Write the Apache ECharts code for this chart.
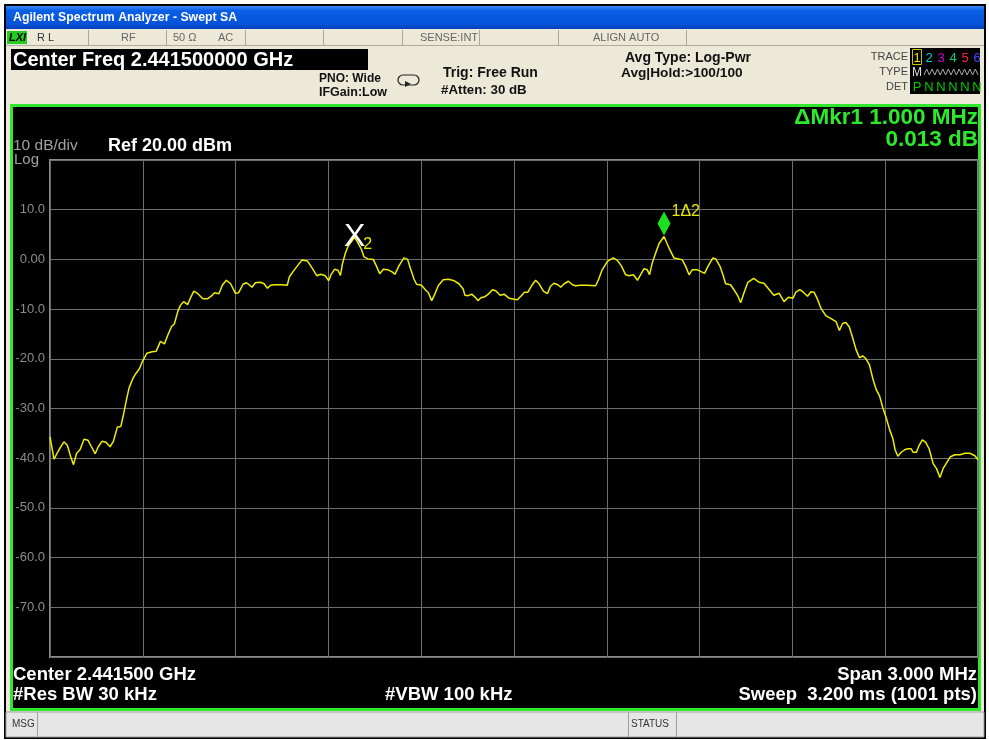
<!DOCTYPE html>
<html>
<head>
<meta charset="utf-8">
<script src="https://cdn.jsdelivr.net/npm/echarts@6/dist/echarts.min.js"></script>
<style>
  body { margin: 0; background: #fff; }
  #sa { width: 989px; height: 740px; }
</style>
</head>
<body>
<div id="sa"></div>
<script>
// trace: offset from centre (kHz) and level (dBm)
var freqKHz = [
  -1500, -1487, -1471, -1455, -1444, -1433, -1424, -1414, -1403, -1390, -1377, -1366, -1354, -1344, -1332, -1319,
  -1306, -1295, -1282, -1271, -1262, -1251, -1244, -1233, -1224, -1211, -1201, -1187, -1170, -1157, -1143, -1130,
  -1119, -1107, -1098, -1087, -1078, -1068, -1055, -1047, -1035, -1022, -1006, -990, -979, -968, -954, -943,
  -930, -916, -901, -890, -884, -876, -865, -858, -847, -836, -820, -808, -797, -787, -774, -752,
  -733, -726, -709, -685, -668, -653, -637, -625, -610, -599, -591, -580, -569, -561, -555, -545,
  -536, -515, -493, -485, -472, -455, -445, -434, -423, -407, -394, -385, -372, -356, -344, -334,
  -323, -315, -299, -288, -277, -266, -256, -245, -229, -212, -193, -178, -164, -159, -148, -137,
  -124, -117, -107, -94, -83, -70, -59, -45, -32, -16, 0, 11, 22, 34, 45, 59,
  70, 81, 95, 108, 118, 129, 142, 151, 162, 176, 189, 199, 215, 237, 264, 273,
  285, 302, 321, 334, 347, 361, 372, 386, 399, 409, 420, 431, 438, 447, 458, 469,
  485, 492, 504, 517, 533, 544, 555, 566, 576, 593, 603, 616, 627, 643, 652, 666,
  677, 684, 700, 711, 724, 733, 743, 756, 775, 792, 808, 824, 840, 857, 873, 887,
  902, 911, 924, 935, 949, 960, 970, 981, 992, 1008, 1025, 1041, 1052, 1055, 1062, 1073,
  1084, 1095, 1106, 1117, 1127, 1138, 1149, 1160, 1171, 1182, 1192, 1203, 1214, 1225, 1232, 1241,
  1252, 1263, 1273, 1284, 1290, 1301, 1309, 1320, 1331, 1342, 1355, 1366, 1377, 1387, 1400, 1411,
  1425, 1442, 1458, 1474, 1490, 1500
];
var levelDbm = [
  -35.7, -40.2, -38.3, -36.7, -37.4, -39.7, -41.3, -39.0, -38.3, -36.2, -36.4, -37.7, -39.1, -37.7, -36.6, -36.8,
  -37.7, -36.6, -33.7, -33.6, -31.1, -27.7, -25.8, -24.1, -23.1, -22.0, -20.5, -18.9, -18.6, -18.5, -16.5, -17.0,
  -15.2, -13.5, -13.0, -10.5, -9.2, -8.5, -9.1, -7.9, -6.4, -6.9, -7.9, -7.9, -7.4, -6.7, -6.9, -5.2,
  -4.2, -4.9, -6.8, -6.7, -6.4, -5.0, -4.7, -5.0, -5.6, -4.7, -4.6, -4.9, -5.8, -5.2, -5.1, -5.1,
  -5.2, -3.5, -2.0, -0.1, -0.3, -1.7, -3.3, -3.0, -3.3, -4.3, -3.0, -2.0, -2.2, -3.2, -1.0, 1.3,
  2.7, 4.5, 2.0, 0.5, 0.1, 0.0, -1.3, -2.9, -2.0, -2.1, -2.5, -3.0, -1.3, 0.3, 0.0, -2.0,
  -4.0, -5.0, -5.2, -6.0, -6.7, -8.3, -7.0, -5.3, -4.1, -4.0, -4.3, -4.9, -6.0, -7.2, -7.3, -7.0,
  -7.7, -8.3, -7.7, -7.5, -7.0, -6.1, -6.3, -7.2, -7.0, -7.8, -8.0, -8.1, -7.4, -6.6, -6.6, -5.1,
  -4.2, -4.9, -6.4, -6.9, -5.4, -4.8, -5.1, -5.6, -4.9, -4.4, -5.1, -5.3, -5.2, -5.2, -5.3, -4.1,
  -2.1, -0.4, 0.3, -0.2, -1.3, -3.1, -3.3, -3.1, -4.2, -3.1, -1.9, -2.1, -3.1, -0.7, 1.3, 3.2,
  4.6, 3.6, 1.9, 0.3, 0.1, -0.1, -1.4, -3.1, -2.1, -2.1, -2.4, -2.8, -1.4, 0.3, 0.1, -1.4,
  -3.4, -4.9, -5.1, -6.1, -7.4, -8.7, -6.8, -4.6, -3.8, -4.6, -4.8, -6.0, -7.2, -6.8, -8.5, -7.6,
  -7.8, -6.6, -6.1, -6.6, -7.4, -6.5, -6.6, -8.0, -9.8, -11.3, -11.9, -12.5, -14.3, -14.7, -12.9, -12.7,
  -13.6, -15.8, -18.2, -19.8, -19.4, -20.0, -21.2, -24.0, -26.2, -27.5, -29.8, -31.8, -34.2, -36.1, -38.3, -39.6,
  -38.8, -38.3, -38.1, -38.1, -38.8, -38.8, -37.5, -36.3, -36.8, -38.1, -41.1, -42.1, -43.9, -42.1, -40.8, -39.7,
  -39.3, -39.3, -39.0, -39.0, -39.5, -40.3
];
var mkr1 = [485, 4.6];
var mkr2 = [-515, 4.5];
var traceNums = ['1', '2', '3', '4', '5', '6'];
var traceDet = ['P', 'N', 'N', 'N', 'N', 'N'];

var trace = freqKHz.map(function (f, i) { return [f, levelDbm[i]]; });

var myChart = echarts.init(document.getElementById('sa'));

var BOLD = '"Liberation Sans", Arial, sans-serif';
function txt(s, x, y, font, fill, align) {
  return { type: 'text', z: 20, style: { text: s, x: x, y: y, font: font, fill: fill, textAlign: align || 'left', textVerticalAlign: 'middle' } };
}
function vline(x, y1, y2, color) {
  return { type: 'line', z: 5, shape: { x1: x, y1: y1, x2: x, y2: y2 }, style: { stroke: color || '#a8a8a0', lineWidth: 1 } };
}

var els = [
  // window frame + title bar
  { type: 'rect', z: -10, shape: { x: 5, y: 5, width: 980, height: 733 }, style: { fill: '#ece9d8', stroke: '#000', lineWidth: 2 } },
  { type: 'rect', z: -9, shape: { x: 6, y: 6, width: 978, height: 23 },
    style: { fill: new echarts.graphic.LinearGradient(0, 0, 0, 1, [
      { offset: 0, color: '#3d8af7' }, { offset: 0.2, color: '#0a5fe6' }, { offset: 0.8, color: '#0552d8' }, { offset: 1, color: '#0340b8' }]) } },
  txt('Agilent Spectrum Analyzer - Swept SA', 13, 18, 'bold 12.3px ' + BOLD, '#fff'),
  // status row
  { type: 'line', z: 5, shape: { x1: 6, y1: 45.5, x2: 984, y2: 45.5 }, style: { stroke: '#b0ada0', lineWidth: 1 } },
  vline(88.5, 30, 45), vline(166.5, 30, 45), vline(245.5, 30, 45), vline(323.5, 30, 45),
  vline(402.5, 30, 45), vline(479.5, 30, 45), vline(558.5, 30, 45), vline(686.5, 30, 45),
  { type: 'rect', z: 5, shape: { x: 7, y: 31, width: 20, height: 13 }, style: { fill: '#22cc22' } },
  txt('LXI', 9, 38, 'italic bold 11px ' + BOLD, '#000'),
  txt('R L', 37, 38, '11px ' + BOLD, '#333'),
  txt('RF', 121, 38, '11px ' + BOLD, '#666'),
  txt('50 Ω', 173, 38, '11px ' + BOLD, '#666'),
  txt('AC', 218, 38, '11px ' + BOLD, '#666'),
  txt('SENSE:INT', 420, 38, '11px ' + BOLD, '#666'),
  txt('ALIGN AUTO', 593, 38, '11px ' + BOLD, '#666'),
  // centre freq box
  { type: 'rect', z: 5, shape: { x: 11, y: 49, width: 357, height: 21 }, style: { fill: '#000' } },
  txt('Center Freq 2.441500000 GHz', 13, 60, 'bold 20px ' + BOLD, '#fff'),
  txt('PNO: Wide', 319, 79, 'bold 12px ' + BOLD, '#111'),
  txt('IFGain:Low', 319, 93, 'bold 12.5px ' + BOLD, '#111'),
  { type: 'rect', z: 5, shape: { x: 398, y: 75, width: 21, height: 10, r: 5 }, style: { fill: 'none', stroke: '#222', lineWidth: 1.2 } },
  { type: 'polygon', z: 6, shape: { points: [[405, 81], [411, 84], [405, 87]] }, style: { fill: '#222' } },
  txt('Trig: Free Run', 443, 73, 'bold 14px ' + BOLD, '#111'),
  txt('#Atten: 30 dB', 441, 90, 'bold 13.3px ' + BOLD, '#111'),
  txt('Avg Type: Log-Pwr', 625, 58, 'bold 14px ' + BOLD, '#111'),
  txt('Avg|Hold:>100/100', 621, 73, 'bold 13.7px ' + BOLD, '#111'),
  // trace box
  txt('TRACE', 908, 57, '11px ' + BOLD, '#444', 'right'),
  txt('TYPE', 908, 72, '11px ' + BOLD, '#444', 'right'),
  txt('DET', 908, 87, '11px ' + BOLD, '#444', 'right'),
  { type: 'rect', z: 5, shape: { x: 910, y: 48, width: 70, height: 46 }, style: { fill: '#000' } },
  { type: 'rect', z: 6, shape: { x: 912.5, y: 49.5, width: 9, height: 15 }, style: { fill: 'none', stroke: '#c8c800', lineWidth: 1 } },
  txt('M', 917, 73, '12px ' + BOLD, '#ddd', 'center'),
  // main screen
  { type: 'rect', z: -5, shape: { x: 11.5, y: 105.5, width: 968, height: 604 }, style: { fill: '#000', stroke: '#2ee82e', lineWidth: 3 } },
  txt('ΔMkr1 1.000 MHz', 978, 118, 'bold 22.5px ' + BOLD, '#2ee82e', 'right'),
  txt('0.013 dB', 978, 140, 'bold 22.5px ' + BOLD, '#2ee82e', 'right'),
  txt('10 dB/div', 13, 146, '15.5px ' + BOLD, '#a0a0a0'),
  txt('Log', 14, 160, '15px ' + BOLD, '#a0a0a0'),
  txt('Ref 20.00 dBm', 108, 146, 'bold 18px ' + BOLD, '#fff'),
  txt('Center 2.441500 GHz', 13, 675, 'bold 18.5px ' + BOLD, '#fff'),
  txt('#Res BW 30 kHz', 13, 695, 'bold 18.5px ' + BOLD, '#fff'),
  txt('#VBW 100 kHz', 385, 695, 'bold 18.5px ' + BOLD, '#fff'),
  txt('Span 3.000 MHz', 977, 675, 'bold 18.5px ' + BOLD, '#fff', 'right'),
  txt('Sweep  3.200 ms (1001 pts)', 977, 695, 'bold 18.5px ' + BOLD, '#fff', 'right'),
  // bottom status bar
  { type: 'rect', z: -4, shape: { x: 6, y: 712, width: 978, height: 25 }, style: { fill: '#e6e6e6', stroke: '#a0a0a0', lineWidth: 1 } },
  vline(37.5, 712, 737, '#a0a0a0'), vline(628.5, 712, 737, '#a0a0a0'), vline(676.5, 712, 737, '#a0a0a0'),
  txt('MSG', 12, 724, '10px ' + BOLD, '#333'),
  txt('STATUS', 631, 724, '10px ' + BOLD, '#333')
];

var numColors = ['#e8e800', '#00c8d0', '#d000d0', '#00d070', '#ff2040', '#4848ff'];
traceNums.forEach(function (n, i) {
  els.push(txt(n, 917 + i * 12, 58, '13px ' + BOLD, numColors[i], 'center'));
});
traceDet.forEach(function (d, i) {
  els.push(txt(d, 917 + i * 12, 87, '13px ' + BOLD, '#00cc00', 'center'));
});
// little "W" squiggle of the type row
var zz = [];
for (var k = 0; k <= 20; k++) zz.push([924 + k * 2.7, k % 2 ? 69 : 75]);
els.push({ type: 'polyline', z: 6, shape: { points: zz }, style: { stroke: '#aaa', lineWidth: 1, fill: null } });

var option = {
  animation: false,
  graphic: { elements: els },
  grid: {
    left: 50, top: 160, width: 928, height: 497,
    show: true, borderColor: '#8a8a8a', borderWidth: 2, backgroundColor: 'transparent'
  },
  xAxis: {
    type: 'value', min: -1500, max: 1500, interval: 300,
    axisLine: { show: false }, axisTick: { show: false }, axisLabel: { show: false },
    splitLine: { lineStyle: { color: '#6e6e6e', width: 1 } }
  },
  yAxis: {
    type: 'value', min: -80, max: 20, interval: 10,
    axisLine: { show: false }, axisTick: { show: false },
    axisLabel: {
      color: '#8c8c8c', fontSize: 13, margin: 5, fontFamily: 'Liberation Sans',
      formatter: function (v) {
        if (v === 20 || v === -80) return '';
        return v === 0 ? '0.00' : v.toFixed(1);
      }
    },
    splitLine: { lineStyle: { color: '#6e6e6e', width: 1 } }
  },
  series: [{
    type: 'line',
    data: trace,
    symbol: 'none',
    lineStyle: { color: '#eeee00', width: 1.5 },
    z: 3,
    markPoint: {
      animation: false,
      data: [
        {
          coord: mkr1, symbol: 'diamond', symbolSize: [13, 24], symbolOffset: [0, -13],
          itemStyle: { color: '#1ee01e' },
          label: { show: true, position: 'right', formatter: '1Δ2', color: '#e6e600', fontSize: 16, offset: [-4, -12] }
        },
        {
          coord: mkr2, symbol: 'circle', symbolSize: 1, itemStyle: { color: 'rgba(0,0,0,0)' },
          label: { show: true, position: 'inside', formatter: 'X', color: '#fff', fontSize: 32, fontFamily: 'Liberation Sans' }
        },
        {
          coord: mkr2, symbol: 'circle', symbolSize: 1, itemStyle: { color: 'rgba(0,0,0,0)' },
          label: { show: true, position: 'inside', formatter: '2', color: '#e6e600', fontSize: 16, offset: [13, 8] }
        }
      ]
    }
  }]
};

myChart.setOption(option);
</script>
</body>
</html>
